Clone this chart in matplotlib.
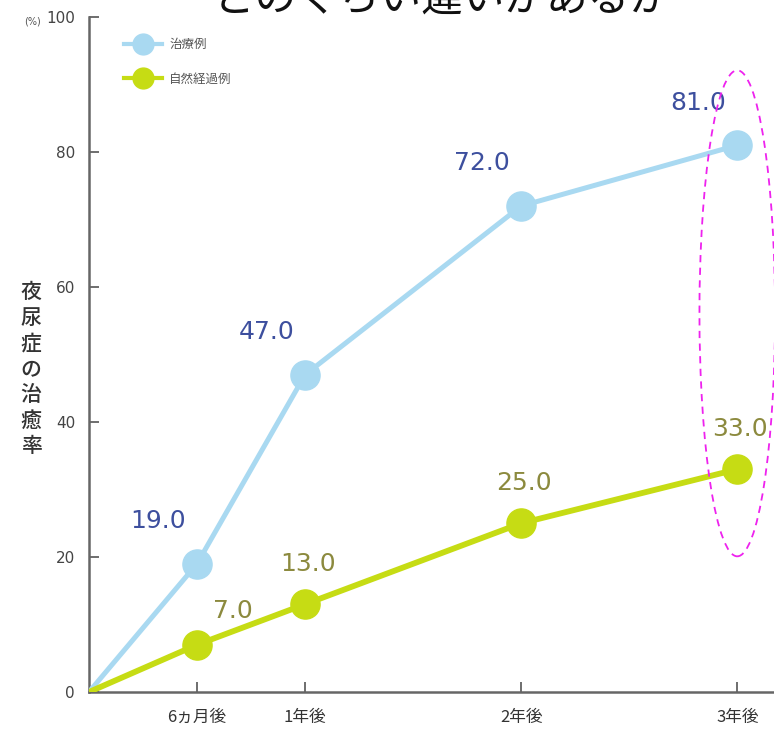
import matplotlib
matplotlib.use('Agg')
import matplotlib.pyplot as plt
from matplotlib.patches import Ellipse
from matplotlib.lines import Line2D

plt.rcParams['font.family'] = ['Noto Sans CJK JP', 'DejaVu Sans']

# data
years = [0, 0.5, 1, 2, 3]
tick_pos = [0.5, 1, 2, 3]
tick_labels = ['6ヵ月後', '1年後', '2年後', '3年後']
treated = [0, 19.0, 47.0, 72.0, 81.0]
natural = [0, 7.0, 13.0, 25.0, 33.0]
names = ['治療例', '自然経過例']

blue = '#a9d9f1'
green = '#c6dc14'
blue_txt = '#3d4f9e'
green_txt = '#8c8a3e'

fig = plt.figure(figsize=(7.74, 7.36), dpi=100)
ax = fig.add_axes([89/774, 44/736, 1 - 89/774, 675/736])

ax.plot(years, treated, color=blue, lw=3.6, zorder=3)
ax.plot(years[1:], treated[1:], 'o', color=blue, ms=21, zorder=4)
ax.plot(years, natural, color=green, lw=4.2, zorder=3)
ax.plot(years[1:], natural[1:], 'o', color=green, ms=21, zorder=4)

# value labels
for x, v in zip(years[1:], treated[1:]):
    ax.annotate(f'{v:.1f}', (x, v), xytext=(-28, 22), textcoords='offset points',
                ha='center', va='bottom', fontsize=18, color=blue_txt,
                family='DejaVu Sans')
for i, (x, v) in enumerate(zip(years[1:], natural[1:])):
    off = (26, 16) if i == 0 else (2, 20)
    ax.annotate(f'{v:.1f}', (x, v), xytext=off, textcoords='offset points',
                ha='center', va='bottom', fontsize=18, color=green_txt,
                family='DejaVu Sans')

ax.set_xlim(0, 3.17)
ax.set_ylim(0, 100)
ax.set_yticks([0, 20, 40, 60, 80, 100])
ax.set_yticklabels(['0', '20', '40', '60', '80', '100'], fontsize=11, color='#444444',
                   family='DejaVu Sans')
ax.set_xticks(tick_pos)
ax.set_xticklabels(tick_labels, fontsize=12, color='#333333')
ax.tick_params(axis='y', direction='in', length=7, width=1.2, color='#555555', pad=10)
ax.tick_params(axis='x', direction='in', length=7, width=1.2, color='#555555', pad=12)
for s in ['top', 'right']:
    ax.spines[s].set_visible(False)
for s in ['left', 'bottom']:
    ax.spines[s].set_color('#666666')
    ax.spines[s].set_linewidth(1.8)

fig.text(24/774, 1 - 21/736, '(%)', fontsize=7, color='#555555', ha='left', va='center',
         family='DejaVu Sans')

# y label, stacked vertically
fig.text(31/774, 1 - 369/736, '\n'.join('夜尿症の治癒率'),
         ha='center', va='center', fontsize=15, color='#333333', linespacing=1.22,
         fontweight='medium')

# legend
handles = [Line2D([], [], color=blue, lw=3, marker='o', ms=15),
           Line2D([], [], color=green, lw=3, marker='o', ms=15)]
leg = ax.legend(handles, names, loc='upper left', bbox_to_anchor=(0.035, 0.985),
                frameon=False, fontsize=9, handlelength=3, labelspacing=1.7,
                handletextpad=0.6)
for t in leg.get_texts():
    t.set_color('#555555')

# highlight ellipse at 3 years
ax.add_patch(Ellipse((3.0, 56.1), 0.35, 72, fill=False, ec='#ee22ee', ls=(0, (4, 3)),
                     lw=1.3, clip_on=False, zorder=5))

# cropped heading
fig.text(443/774, 1 - 20/736, 'どのくらい違いがあるか', fontsize=30, ha='center',
         va='bottom', color='#111111')

fig.savefig('out.png', dpi=100, facecolor='white')
